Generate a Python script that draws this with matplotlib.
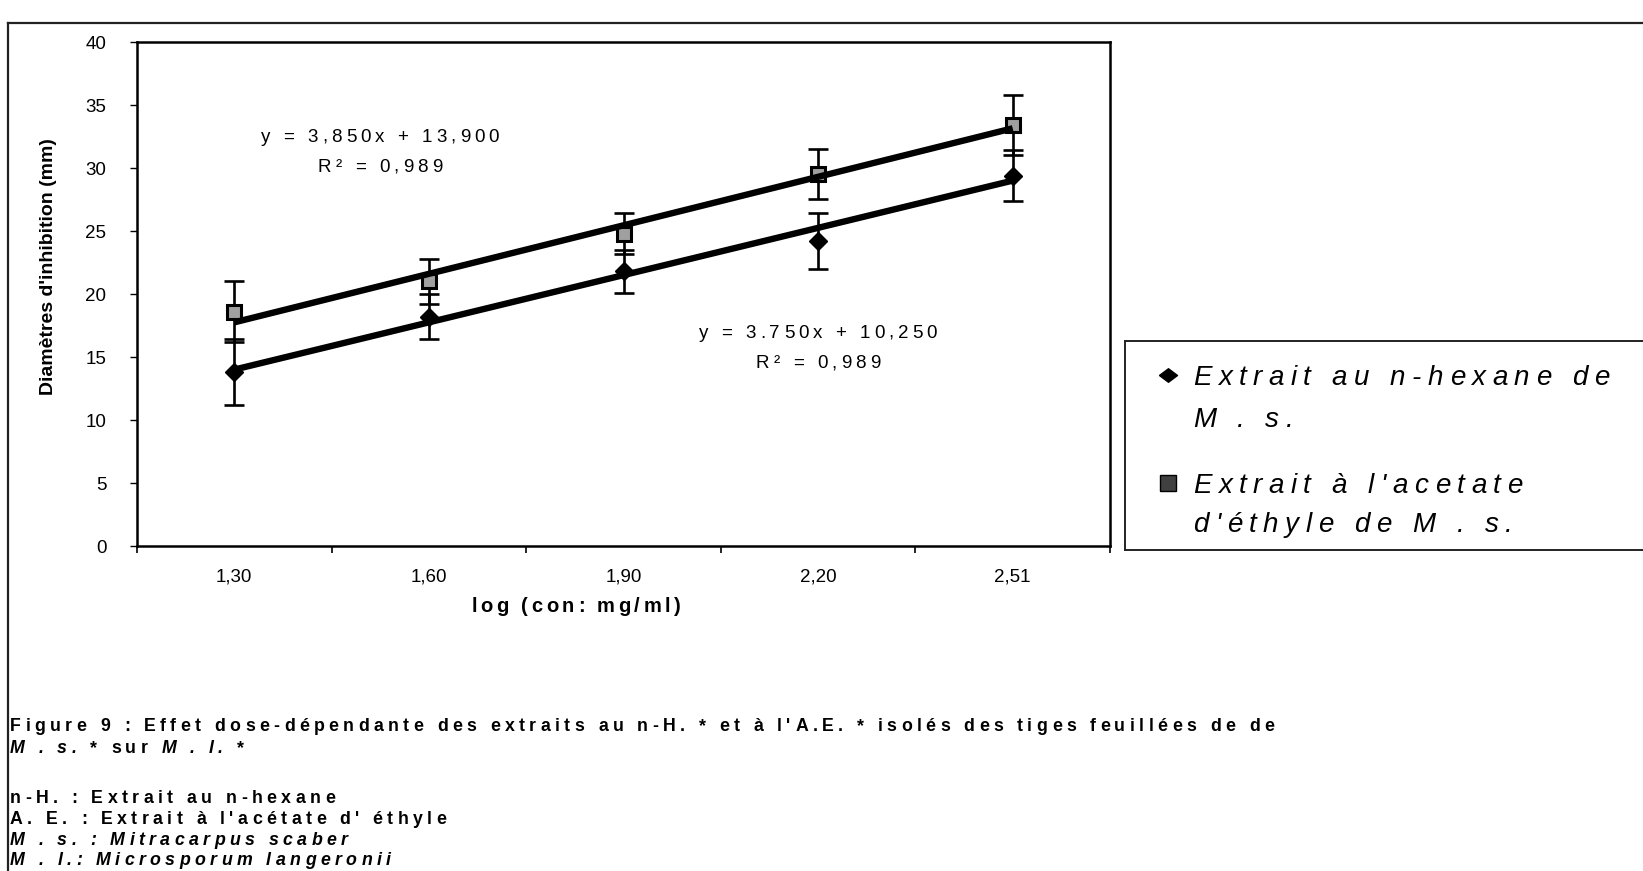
import matplotlib
matplotlib.use("Agg")
import matplotlib.pyplot as plt
import numpy as np
from matplotlib import font_manager
from matplotlib.font_manager import FontProperties
from matplotlib.ft2font import FT2Font
from matplotlib.lines import Line2D

OUTPUT_PLOT = "out.png"
W, H, DPI = 1643, 871, 100
FONT = "Liberation Sans"

# log(concentration) categories, drawn as an evenly spaced category axis
CATEGORIES = ["1,30", "1,60", "1,90", "2,20", "2,51"]

# inhibition diameters (mm), mean and error bar half-width
HEXANE_MEAN = [13.8, 18.2, 21.8, 24.2, 29.4]
HEXANE_ERR = [2.6, 1.8, 1.7, 2.2, 2.0]
ACETATE_MEAN = [18.6, 21.0, 24.8, 29.5, 33.4]
ACETATE_ERR = [2.4, 1.8, 1.6, 2.0, 2.4]

# linear trends (slope, intercept) against category index 1..5
HEXANE_FIT = (3.750, 10.250)
ACETATE_FIT = (3.850, 13.900)
HEXANE_EQ = ["y = 3.750x + 10,250", "R² = 0,989"]
ACETATE_EQ = ["y = 3,850x + 13,900", "R² = 0,989"]

LEGEND_HEXANE = ["Extrait au n-hexane de", "M . s."]
LEGEND_ACETATE = ["Extrait à l'acetate", "d'éthyle de M . s."]

CAPTION = [
    [("Figure 9 : Effet dose-dépendante des extraits au n-H. * et à l'A.E. * "
      "isolés des tiges feuillées de de", "bold", "normal")],
    [("M . s.", "bold", "italic"), (" * sur ", "bold", "normal"),
     ("M . l.", "bold", "italic"), (" *", "bold", "normal")],
    None,
    [("n-H. : Extrait au n-hexane", "bold", "normal")],
    [("A. E. : Extrait à l'acétate d' éthyle", "bold", "normal")],
    [("M . s. : Mitracarpus scaber", "bold", "italic")],
    [("M . l.: Microsporum langeronii", "bold", "italic")],
]

# flattened diamond used for the hexane series in the legend
FLAT_DIAMOND = [(-1, 0), (0, 0.75), (1, 0), (0, -0.75), (-1, 0)]

_ft_cache = {}


def fx(px):
    return px / W


def fy(py):
    return 1 - py / H


def advance_pt(ch, prop):
    path = font_manager.findfont(prop)
    font = _ft_cache.get(path)
    if font is None:
        font = _ft_cache[path] = FT2Font(path)
    font.set_size(prop.get_size_in_points(), 72)
    return font.load_char(ord(ch)).linearHoriAdvance / 65536.0


def spaced_text(fig, x, y, runs, size, track, ha="left"):
    """Letter-spaced text. x, y in pixels from the top-left corner, y is the baseline."""
    glyphs = []
    for text, weight, style in runs:
        prop = FontProperties(family=FONT, weight=weight, style=style, size=size)
        for ch in text:
            glyphs.append((ch, prop, advance_pt(ch, prop)))
    scale = DPI / 72.0
    width = (sum(adv + track for _, _, adv in glyphs) - track) * scale
    if ha == "center":
        x -= width / 2
    for ch, prop, adv in glyphs:
        if not ch.isspace():
            fig.text(fx(x), fy(y), ch, fontproperties=prop, ha="left", va="baseline")
        x += (adv + track) * scale


def fig_line(fig, xs, ys, lw=1.4, color="#222222"):
    fig.add_artist(Line2D([fx(v) for v in xs], [fy(v) for v in ys],
                          transform=fig.transFigure, color=color, linewidth=lw))


def main():
    plt.rcParams["font.family"] = [FONT, "DejaVu Sans"]
    fig = plt.figure(figsize=(W / DPI, H / DPI), dpi=DPI)
    fig.patch.set_facecolor("white")

    left, right, top, bottom = 137, 1110, 42, 546
    ax = fig.add_axes([fx(left), fy(bottom), (right - left) / W, (bottom - top) / H])

    x = np.arange(1, len(CATEGORIES) + 1)

    ax.errorbar(x, HEXANE_MEAN, yerr=HEXANE_ERR, fmt="none", ecolor="black",
                elinewidth=1.9, capsize=7.5, capthick=1.9, zorder=2)
    ax.errorbar(x, ACETATE_MEAN, yerr=ACETATE_ERR, fmt="none", ecolor="black",
                elinewidth=1.9, capsize=7.5, capthick=1.9, zorder=2)
    ax.plot(x, HEXANE_MEAN, linestyle="none", marker="D", ms=9,
            color="black", zorder=3)
    ax.plot(x, ACETATE_MEAN, linestyle="none", marker="s", ms=10,
            markerfacecolor="#a0a0a0", markeredgecolor="black", markeredgewidth=2.2,
            zorder=3)

    xs = np.array([x[0], x[-1]], dtype=float)
    for slope, intercept in (HEXANE_FIT, ACETATE_FIT):
        ax.plot(xs, slope * xs + intercept, color="black", linewidth=4.6,
                solid_capstyle="butt", zorder=4)

    ax.set_xlim(0.5, len(CATEGORIES) + 0.5)
    ax.set_ylim(0, 40)
    ax.set_yticks(np.arange(0, 41, 5))
    ax.set_xticks(x)
    ax.set_xticklabels(CATEGORIES)
    ax.set_xticks(np.arange(0.5, len(CATEGORIES) + 1, 1), minor=True)
    ax.tick_params(axis="x", which="major", length=0, pad=16, labelsize=13.5)
    ax.tick_params(axis="x", which="minor", length=5, width=1.2, direction="out")
    ax.tick_params(axis="y", length=5, width=1.0, direction="out", pad=17,
                   labelsize=13.5)
    for spine in ax.spines.values():
        spine.set_linewidth(1.8)
        spine.set_color("black")

    ax.text((49 - left) / (right - left), (bottom - 267) / (bottom - top),
            "Diamètres d'inhibition (mm)", transform=ax.transAxes, rotation=90,
            ha="center", va="center", fontsize=14, fontweight="bold")
    spaced_text(fig, 576, 612, [("log (con: mg/ml)", "bold", "normal")], 14.5, 2.5,
                ha="center")

    # trend line equations
    for cx, base, lines in ((380, 142, ACETATE_EQ), (818, 338, HEXANE_EQ)):
        for i, line in enumerate(lines):
            spaced_text(fig, cx, base + 30 * i, [(line, "normal", "normal")], 13.5, 2.9,
                        ha="center")

    # legend box, open on the right edge
    fig_line(fig, [1125, W], [341, 341])
    fig_line(fig, [1125, W], [550, 550])
    fig_line(fig, [1125, 1125], [341, 550])
    fig.add_artist(Line2D([fx(1168)], [fy(375)], transform=fig.transFigure,
                          marker=FLAT_DIAMOND, ms=13, color="black", linestyle="none"))
    fig.add_artist(Line2D([fx(1168)], [fy(483)], transform=fig.transFigure,
                          marker="s", ms=11, markerfacecolor="#404040",
                          markeredgecolor="black", linestyle="none"))
    for base, line in zip((385, 427), LEGEND_HEXANE):
        spaced_text(fig, 1193, base, [(line, "normal", "italic")], 20, 4.7)
    for base, line in zip((493, 532), LEGEND_ACETATE):
        spaced_text(fig, 1193, base, [(line, "normal", "italic")], 20, 4.7)

    # page frame
    fig_line(fig, [8, W], [23, 23], lw=1.6)
    fig_line(fig, [8, 8], [23, H], lw=1.6)

    # caption and abbreviations
    baselines = [731, 753, None, 803, 824, 845, 865]
    for base, runs in zip(baselines, CAPTION):
        if runs is None:
            continue
        spaced_text(fig, 10, base, runs, 12.8, 3.2)

    fig.savefig(OUTPUT_PLOT, dpi=DPI)
    plt.close(fig)


if __name__ == "__main__":
    main()
